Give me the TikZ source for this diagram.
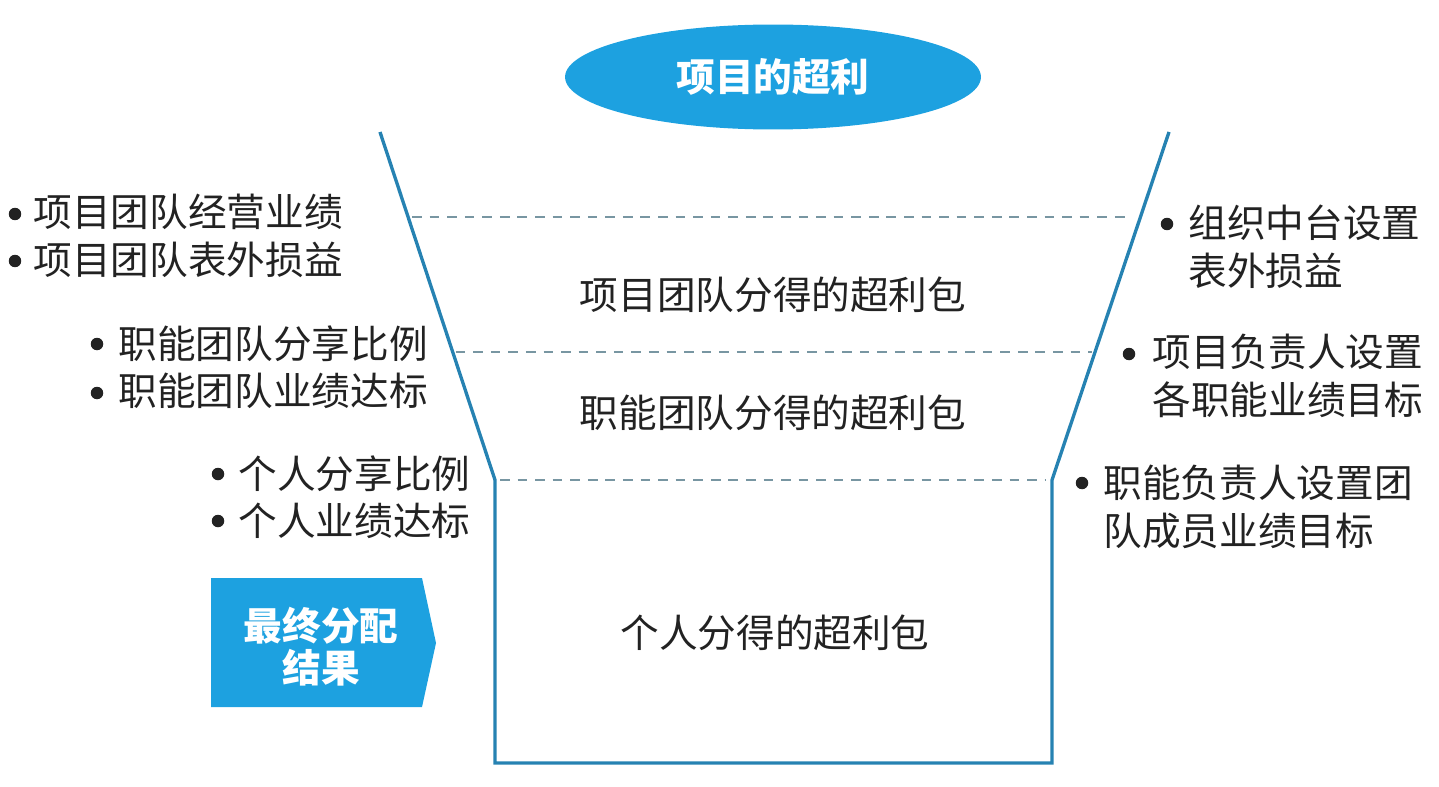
\documentclass[tikz,border=0pt]{standalone}
\usepackage{fontspec}
\setmainfont{Noto Sans CJK SC}
\usetikzlibrary{calc, shapes.geometric}
\definecolor{cupblue}{RGB}{38,130,178}
\definecolor{fillblue}{RGB}{29,161,224}
\definecolor{dashgray}{RGB}{120,150,162}
\definecolor{txt}{RGB}{34,34,34}

\begin{document}
\begin{tikzpicture}[x=0.02cm, y=-0.02cm, line width=1.9pt,
		txtnode/.style={text=txt, font=\fontsize{22}{27}\selectfont, inner sep=0pt, align=left},
		dot/.style={circle, fill=txt, inner sep=0pt, minimum size=0.25cm},
		divide/.style={dashgray, line width=1pt, dash pattern=on 5.5pt off 4.5pt}]
		\useasboundingbox (0,0) rectangle (1439,787);

		% cup outline
		\coordinate (tl) at (380,132);
		\coordinate (bl) at (495,480);
		\coordinate (bll) at (495,763);
		\coordinate (brr) at (1052,763);
		\coordinate (br) at (1052,480);
		\coordinate (tr) at (1169,132);
		\draw[cupblue, line join=miter] (tl) -- (bl) -- (bll) -- (brr) -- (br) -- (tr);

		\coordinate (l1) at ($(tl)!0.244!(bl)+(4,0)$);
		\coordinate (r1) at ($(tr)!0.244!(br)+(-12,0)$);
		\coordinate (l2) at ($(tl)!0.632!(bl)+(3,0)$);
		\coordinate (r2) at ($(tr)!0.632!(br)+(-3,0)$);
		\coordinate (l3) at ($(bl)+(5,0)$);
		\coordinate (r3) at ($(br)+(-6,0)$);
		\draw[divide] (l1) -- (r1);
		\draw[divide] (l2) -- (r2);
		\draw[divide] (l3) -- (r3);

		\node[ellipse, fill=fillblue, minimum width=8.32cm, minimum height=2.1cm, inner sep=0pt,
			text=white, font=\fontsize{22}{27}\selectfont\bfseries] (profit) at (773,77) {项目的超利};

		\node[txtnode] (pack1) at (773,295) {项目团队分得的超利包};
		\node[txtnode] (pack2) at (773,413) {职能团队分得的超利包};
		\node[txtnode] (pack3) at (775,633) {个人分得的超利包};

		% left notes
		\node[txtnode, anchor=west] (proj) at (32,236) {项目团队经营业绩\\项目团队表外损益};
		\node[txtnode, anchor=west] (func) at (117,367) {职能团队分享比例\\职能团队业绩达标};
		\node[txtnode, anchor=west] (pers) at (237,497) {个人分享比例\\个人业绩达标};
		\node[dot] (d1) at (15,214) {};
		\node[dot] (d2) at (15,261) {};
		\node[dot] (d3) at (97,344) {};
		\node[dot] (d4) at (97,393) {};
		\node[dot] (d5) at (218,474) {};
		\node[dot] (d6) at (218,521) {};

		% right notes
		\node[txtnode, anchor=west] (mid) at (1187,247) {组织中台设置\\表外损益};
		\node[txtnode, anchor=west] (lead) at (1151,376) {项目负责人设置\\各职能业绩目标};
		\node[txtnode, anchor=west] (head) at (1102,507) {职能负责人设置团\\队成员业绩目标};
		\node[dot] (d7) at (1167,224) {};
		\node[dot] (d8) at (1129,354) {};
		\node[dot] (d9) at (1082,483) {};

		% result tag
		\fill[fillblue] (211,578) -- (422,578) -- (436,643) -- (422,707) -- (211,707) -- cycle;
		\node[text=white, font=\fontsize{22}{24}\selectfont\bfseries, align=center, inner sep=0pt]
			(final) at (321,647) {最终分配\\结果};
	\end{tikzpicture}
\end{document}
